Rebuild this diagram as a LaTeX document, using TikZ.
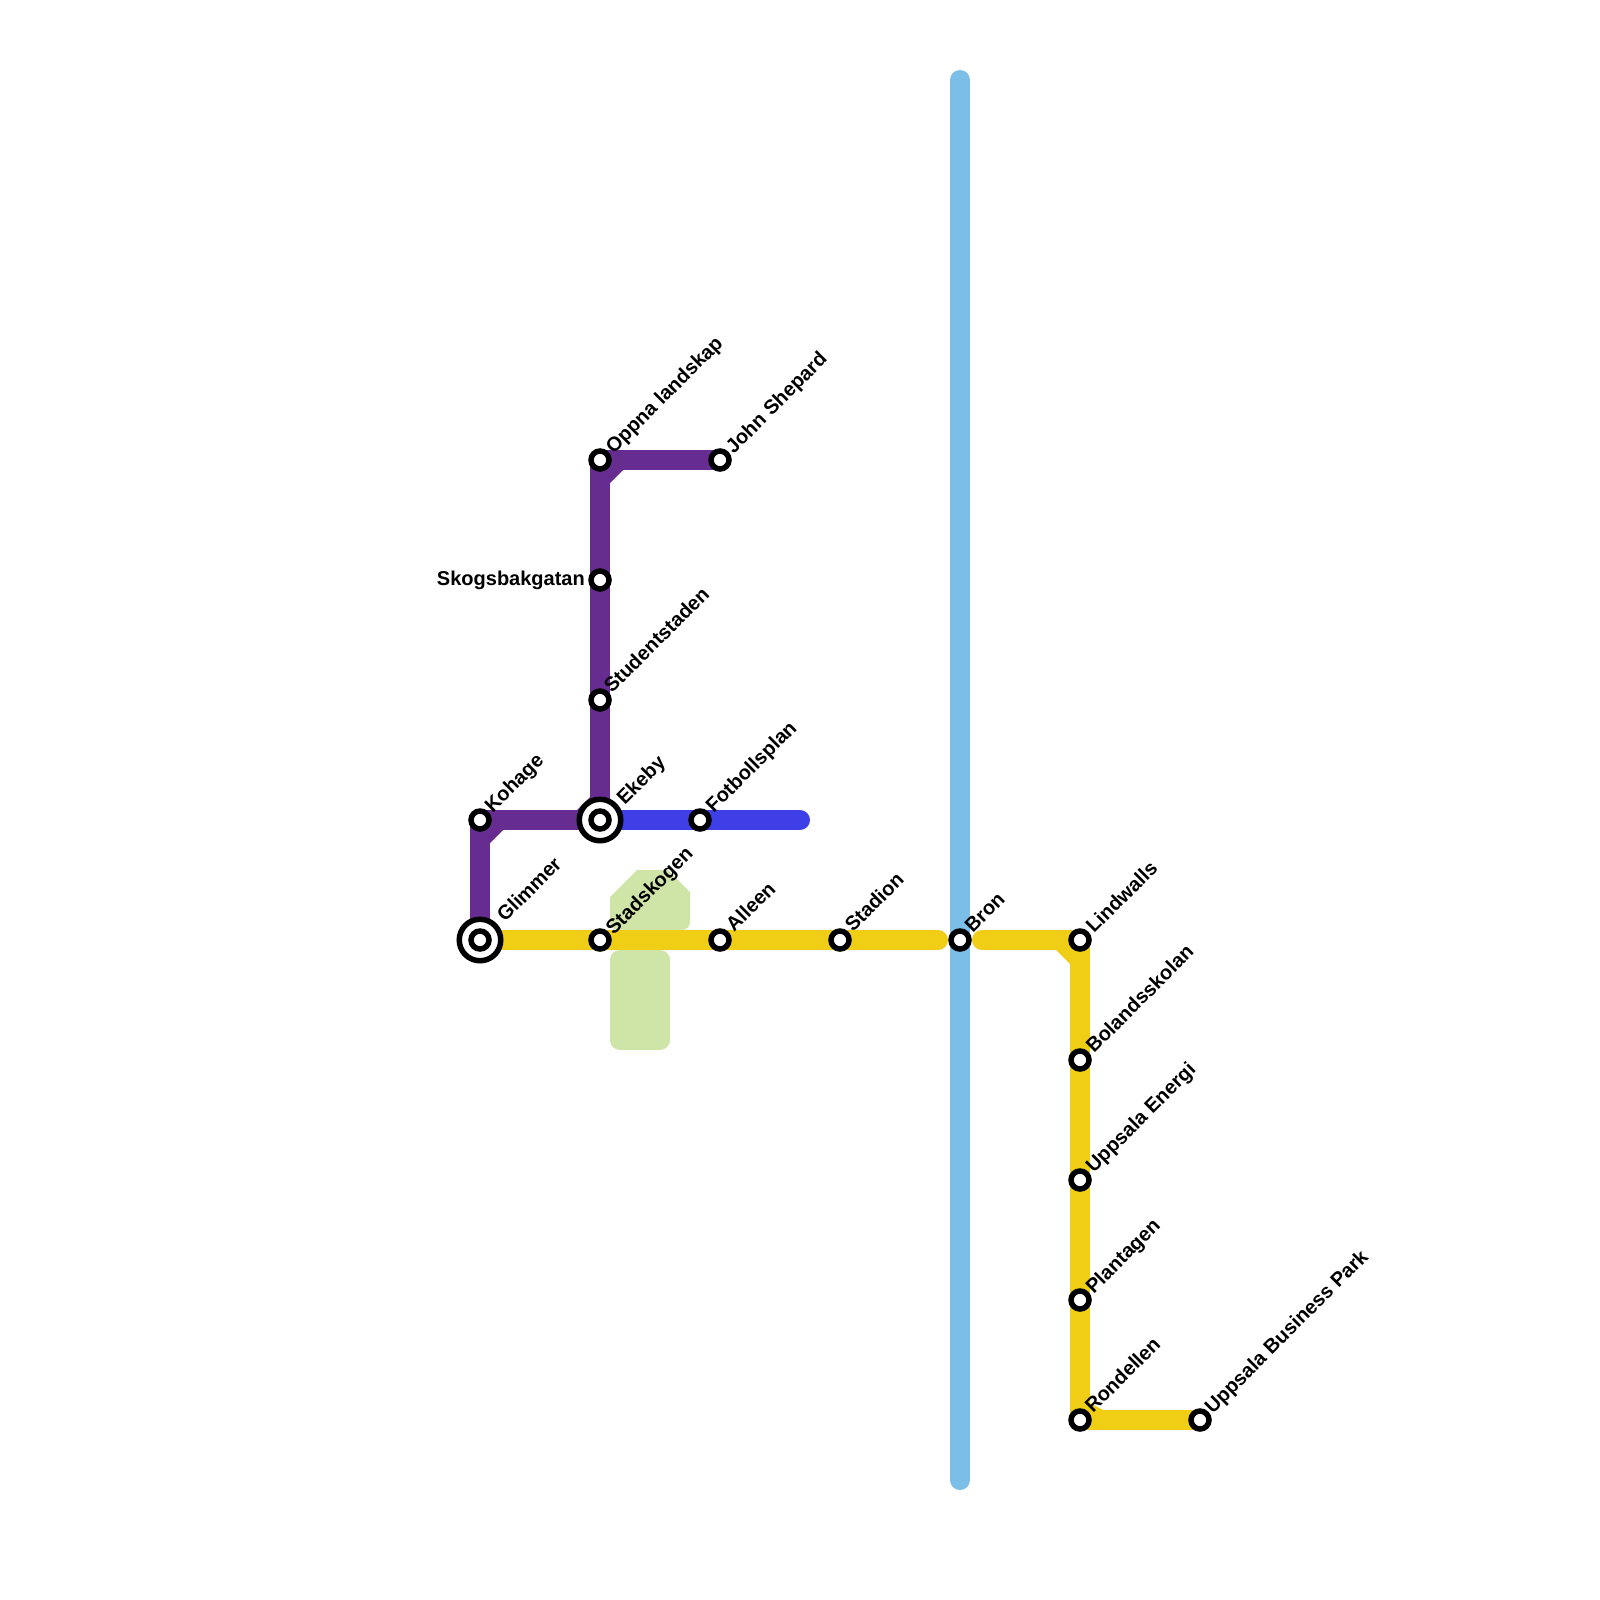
\documentclass[tikz,border=0pt]{standalone}
\usepackage{fontspec}
\setmainfont{Liberation Sans}
\usetikzlibrary{backgrounds}
\definecolor{lpurple}{HTML}{662C90}
\definecolor{lyellow}{HTML}{F0CE15}
\definecolor{lblue}{HTML}{3F3FE8}
\definecolor{lsky}{HTML}{7BBFE9}
\definecolor{lgreen}{HTML}{CFE4A7}
\tikzset{
 stn/.style={circle,draw=black,fill=white,line width=5.5pt,minimum size=18pt,inner sep=0pt,outer sep=0pt},
 hub/.style={circle,draw=black,fill=white,line width=5.5pt,minimum size=41.5pt,inner sep=0pt,outer sep=0pt},
 lab/.style={font=\bfseries\fontsize{20pt}{22pt}\selectfont,text=black,inner sep=0pt,rotate=45,anchor=west},
 rail/.style={line width=20pt,line cap=butt,line join=round},
 rnd/.style={line width=20pt,line cap=round},
}
\begin{document}
\begin{tikzpicture}[x=1pt,y=-1pt]
\useasboundingbox (0,0) rectangle (1600,1600);
% stations
\node[hub] (glimmerO) at (480,940) {};
\node[stn] (glimmer) at (480,940) {};
\node[hub] (ekebyO) at (600,820) {};
\node[stn] (ekeby) at (600,820) {};
\node[stn] (kohage) at (480,820) {};
\node[stn] (oppna) at (600,460) {};
\node[stn] (john) at (720,460) {};
\node[stn] (skogs) at (600,580) {};
\node[stn] (student) at (600,700) {};
\node[stn] (fotboll) at (700,820) {};
\node[stn] (stadskogen) at (600,940) {};
\node[stn] (alleen) at (720,940) {};
\node[stn] (stadion) at (840,940) {};
\node[stn] (bron) at (960,940) {};
\node[stn] (lindwalls) at (1080,940) {};
\node[stn] (bolands) at (1080,1060) {};
\node[stn] (energi) at (1080,1180) {};
\node[stn] (plantagen) at (1080,1300) {};
\node[stn] (rondellen) at (1080,1420) {};
\node[stn] (park) at (1200,1420) {};
\coordinate (blueEnd) at (800,820);
\coordinate (skyTop) at (960,80);
\coordinate (skyBot) at (960,1480);
\coordinate (yelA) at (938,940);
\coordinate (yelB) at (982,940);
\coordinate (yelC) at (1000,940);
% labels
\node[lab] (tKohage) at (489,810) {Kohage};
\node[lab] (tGlimmer) at (500,918) {Glimmer};
\node[lab] (tEkeby) at (621,802) {Ekeby};
\node[lab] (tOppna) at (610,451) {Oppna landskap};
\node[lab] (tJohn) at (730,451) {John Shepard};
\node[lab,rotate=-45,anchor=east] (tSkogs) at (585,580) {Skogsbakgatan};
\node[lab] (tStudent) at (607,689) {Studentstaden};
\node[lab] (tFotboll) at (710,810) {Fotbollsplan};
\node[lab] (tStadskogen) at (610,932) {Stadskogen};
\node[lab] (tAlleen) at (729,928) {Alleen};
\node[lab] (tStadion) at (848,928) {Stadion};
\node[lab] (tBron) at (968,929) {Bron};
\node[lab] (tLindwalls) at (1089,929) {Lindwalls};
\node[lab] (tBolands) at (1089,1049) {Bolandsskolan};
\node[lab] (tEnergi) at (1090,1170) {Uppsala Energi};
\node[lab] (tPlantagen) at (1090,1291) {Plantagen};
\node[lab] (tRondellen) at (1088,1409) {Rondellen};
\node[lab] (tPark) at (1209,1411) {Uppsala Business Park};
\begin{pgfonlayer}{background}
\fill[white] (0,0) rectangle (1600,1600);
% green areas
\fill[lgreen] (610,897) -- (637,870) -- (668,870) -- (690,892) -- (690,922) arc[start angle=0,end angle=90,radius=8] -- (618,930) arc[start angle=90,end angle=180,radius=8] -- cycle;
\fill[lgreen,rounded corners=10pt] (610,950) rectangle (670,1050);
% sky line
\draw[rnd,lsky] (skyTop) -- (skyBot);
% blue line
\draw[rnd,lblue] (ekeby.center) -- (fotboll.center) -- (blueEnd);
% yellow
\draw[rail,lyellow] (glimmer.center) -- (stadskogen.center) -- (alleen.center) -- (stadion.center);
\draw[rnd,lyellow] (stadion.center) -- (yelA);
\draw[rnd,lyellow] (yelB) -- (yelC);
\draw[rail,lyellow] (yelC) -- (lindwalls.center) -- (bolands.center) -- (energi.center) -- (plantagen.center) -- (rondellen.center) -- (park.center);
\fill[lyellow] (1056,950) -- (1070,964) -- (1070,950) -- cycle;
\fill[lyellow] (1090,1403) -- (1103,1410) -- (1090,1410) -- cycle;
% purple
\draw[rail,lpurple] (john.center) -- (oppna.center) -- (skogs.center) -- (student.center) -- (ekeby.center);
\draw[rail,lpurple] (ekeby.center) -- (kohage.center) -- (glimmer.center);
\fill[lpurple] (623,470) -- (610,483) -- (610,470) -- cycle;
\fill[lpurple] (503,830) -- (490,843) -- (490,830) -- cycle;
\fill[lpurple] (577,810) -- (590,797) -- (590,810) -- cycle;
\end{pgfonlayer}
\end{tikzpicture}
\end{document}
